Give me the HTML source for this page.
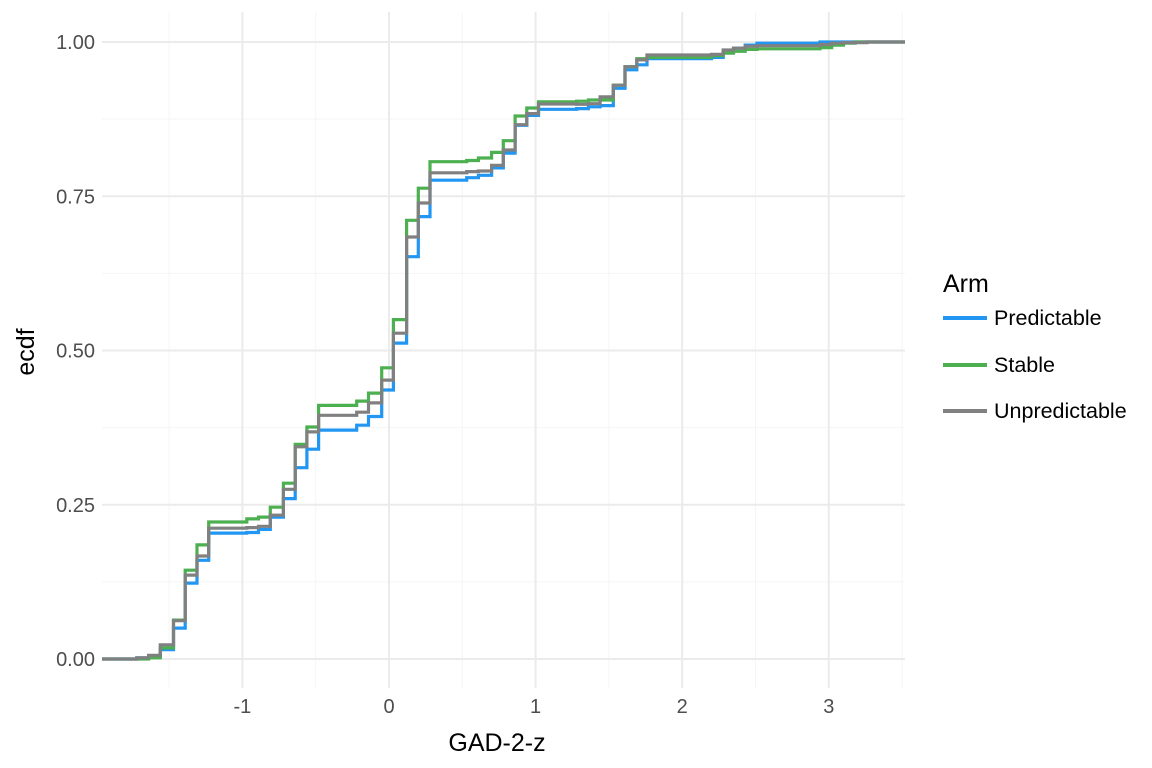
<!DOCTYPE html>
<html><head><meta charset="utf-8"><style>
html,body{margin:0;padding:0;background:#fff;}
svg{display:block;font-family:"Liberation Sans",sans-serif;}
</style></head><body>
<svg id="chart" width="1152" height="768">
<g id="grid"></g>
<g id="series"></g>
<g id="axes"></g>
<text x="497" y="751" font-size="25" text-anchor="middle" fill="#000">GAD-2-z</text>
<text transform="translate(34,352) rotate(-90)" font-size="25" text-anchor="middle" fill="#000">ecdf</text>
<g>
<text x="943" y="292" font-size="25" fill="#000">Arm</text>
<g><line x1="943" y1="318" x2="987" y2="318" stroke="#2196F3" stroke-width="4"/><text x="994" y="325" font-size="21.5" fill="#000">Predictable</text></g>
<g><line x1="943" y1="365" x2="987" y2="365" stroke="#4CAF50" stroke-width="4"/><text x="994" y="372" font-size="21.5" fill="#000">Stable</text></g>
<g><line x1="943" y1="411" x2="987" y2="411" stroke="#808080" stroke-width="4"/><text x="994" y="418" font-size="21.5" fill="#000">Unpredictable</text></g>
</g>
</svg>
<script>
const xBreaks=[-1.72,-1.64,-1.56,-1.47,-1.39,-1.31,-1.23,-0.97,-0.89,-0.81,-0.72,-0.64,-0.56,-0.48,-0.22,-0.14,-0.05,0.03,0.12,0.20,0.28,0.53,0.61,0.70,0.78,0.86,0.94,1.02,1.28,1.36,1.44,1.53,1.61,1.69,1.76,2.20,2.28,2.35,2.43,2.51,2.94,3.02,3.10,3.18,3.26];
const predictable=[0.002,0.004,0.015,0.05,0.123,0.16,0.204,0.205,0.21,0.23,0.26,0.31,0.34,0.371,0.379,0.393,0.436,0.512,0.652,0.717,0.776,0.78,0.784,0.796,0.82,0.865,0.881,0.891,0.892,0.895,0.897,0.925,0.955,0.963,0.973,0.975,0.984,0.99,0.995,0.998,1.0,1.0,1.0,1.0,1.0];
const stable=[0.0,0.002,0.018,0.063,0.144,0.185,0.222,0.227,0.23,0.246,0.285,0.348,0.376,0.411,0.418,0.431,0.472,0.55,0.711,0.763,0.806,0.808,0.812,0.821,0.84,0.88,0.893,0.903,0.904,0.906,0.906,0.93,0.96,0.973,0.975,0.978,0.982,0.985,0.988,0.989,0.991,0.995,0.998,1.0,1.0];
const unpredictable=[0.002,0.006,0.023,0.062,0.136,0.167,0.212,0.213,0.215,0.233,0.275,0.344,0.368,0.395,0.40,0.415,0.452,0.528,0.684,0.739,0.788,0.79,0.791,0.80,0.825,0.866,0.884,0.8995,0.899,0.90,0.911,0.93,0.96,0.971,0.979,0.98,0.987,0.99,0.993,0.994,0.996,0.998,0.999,0.999,1.0];
const xTicks=[-1,0,1,2,3];
const xTickLabels=["-1","0","1","2","3"];
const yTicks=[0,0.25,0.5,0.75,1];
const yTickLabels=["0.00","0.25","0.50","0.75","1.00"];
const L=102,R=905,T=12,B=688;
const sx=v=>389+v*146.6;
const sy=v=>659-v*617;
const NS="http://www.w3.org/2000/svg";
function mk(tag,attrs,parent){const e=document.createElementNS(NS,tag);for(const k in attrs)e.setAttribute(k,attrs[k]);parent.appendChild(e);return e;}
const grid=document.getElementById('grid'),axes=document.getElementById('axes'),ser=document.getElementById('series');
for(let v=-1.5;v<=3.5;v+=1){const l=mk('line',{x1:sx(v),x2:sx(v),y1:T,y2:B,stroke:'#f5f5f5','stroke-width':1},grid);

}
for(let v=0.125;v<1.1;v+=0.25){const l=mk('line',{x1:L,x2:R,y1:sy(v),y2:sy(v),stroke:'#f5f5f5','stroke-width':1},grid);

}
xTicks.forEach((v,i)=>{const l=mk('line',{x1:sx(v),x2:sx(v),y1:T,y2:B,stroke:'#ebebeb','stroke-width':2},grid);


const t=mk('text',{x:sx(v),y:713,'font-size':20,'text-anchor':'middle',fill:'#4d4d4d'},axes);t.textContent=xTickLabels[i];

});
yTicks.forEach((v,i)=>{const l=mk('line',{x1:L,x2:R,y1:sy(v),y2:sy(v),stroke:'#ebebeb','stroke-width':2},grid);


const t=mk('text',{x:95,y:sy(v)+7,'font-size':20,'text-anchor':'end',fill:'#4d4d4d'},axes);t.textContent=yTickLabels[i];

});
function stepPath(vals){let d='M'+L+','+sy(0);
xBreaks.forEach((x,i)=>{d+=' H'+sx(x).toFixed(1)+' V'+sy(vals[i]).toFixed(1);});
d+=' H'+R;return d;}
[[predictable,'#2196F3','line-predictable'],[stable,'#4CAF50','line-stable'],[unpredictable,'#808080','line-unpredictable']].forEach(s=>{
const p=mk('path',{d:stepPath(s[0]),fill:'none',stroke:s[1],'stroke-width':3.2},ser);

});
</script>
</body></html>
